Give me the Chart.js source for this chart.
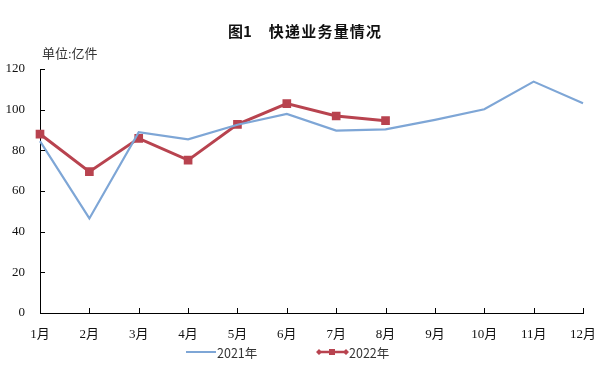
<!DOCTYPE html>
<html>
<head>
<meta charset="utf-8">
<script src="https://cdn.jsdelivr.net/npm/chart.js@4"></script>
<style>
  body { margin:0; background:#fff; }
  #wrap { position:relative; width:606px; height:370px; }
  canvas { position:absolute; left:0; top:0; }
  .title { position:absolute; left:228px; top:20px; font:bold 15px 'Noto Sans CJK SC',sans-serif; color:#111; white-space:nowrap; }
  .title span { letter-spacing:1.2px; margin-left:17px; }
  .unit { position:absolute; left:42px; top:43px; font:13px 'Liberation Serif','Noto Sans CJK SC',serif; color:#333; }
  .leg { position:absolute; top:343px; font:12.5px 'Noto Sans CJK SC',sans-serif; color:#333; display:flex; align-items:center; height:18px; }
</style>
</head>
<body>
<div id="wrap">
  <canvas id="c" width="606" height="370"></canvas>
  <div class="title">图1<span>快递业务量情况</span></div>
  <div class="unit">单位:亿件</div>
  <div class="leg" style="left:186px"><svg width="31" height="6"><line x1="0" y1="3" x2="30" y2="3" stroke="#7ea6d6" stroke-width="2"/></svg>2021年</div>
  <div class="leg" style="left:316px"><svg width="33" height="10"><line x1="2" y1="5" x2="31" y2="5" stroke="#b8434f" stroke-width="2.5"/><rect x="13" y="2" width="6" height="6" fill="#b8434f"/><path d="M0 5 L3 2 L6 5 L3 8Z M27 5 L30 2 L33 5 L30 8Z" fill="#b8434f"/></svg>2022年</div>
</div>
<script>
const months = ['1月','2月','3月','4月','5月','6月','7月','8月','9月','10月','11月','12月'];
const y2021 = [84.5, 46.5, 88.9, 85.4, 92.6, 97.9, 89.7, 90.3, 95.0, 100.2, 113.8, 103.1];
const y2022 = [88.0, 69.5, 85.9, 75.2, 92.8, 103.0, 96.9, 94.6];
const yTicks = [0, 20, 40, 60, 80, 100, 120];

const tickFont = { family:"'Liberation Serif','Noto Sans CJK SC',serif", size:13 };

// inside tick marks like the Excel original
const innerTicks = {
  id:'innerTicks',
  afterDraw(chart) {
    const { ctx, scales:{x, y} } = chart;
    ctx.save();
    ctx.strokeStyle = '#000'; ctx.lineWidth = 1;
    ctx.beginPath();
    months.forEach((m, i) => {
      const px = Math.round(x.getPixelForValue(i)) + 0.5;
      ctx.moveTo(px, y.bottom); ctx.lineTo(px, y.bottom - 5);
    });
    yTicks.forEach(v => {
      const py = Math.round(y.getPixelForValue(v)) + 0.5;
      ctx.moveTo(x.left, py); ctx.lineTo(x.left + 5, py);
    });
    ctx.stroke();
    ctx.restore();
  }
};

new Chart(document.getElementById('c'), {
  type:'line',
  data:{
    labels:months,
    datasets:[
      { label:'2021年', data:y2021, borderColor:'#7ea6d6', borderWidth:2.2, pointRadius:0, tension:0, fill:false },
      { label:'2022年', data:y2022, borderColor:'#b8434f', backgroundColor:'#b8434f', borderWidth:3, pointStyle:'rect', pointRadius:4, tension:0, fill:false },
    ]
  },
  options:{
    responsive:false, animation:false,
    layout:{ padding:{ left:0, right:23, top:69, bottom:0 } },
    plugins:{ legend:{display:false}, tooltip:{enabled:false} },
    scales:{
      x:{
        offset:false,
        grid:{ display:false },
        border:{ display:true, color:'#000', width:1 },
        ticks:{ color:'#111', font:tickFont, padding:6, maxRotation:0, autoSkip:false },
        afterFit(s){ s.height = 57; }
      },
      y:{
        min:0, max:120,
        grid:{ display:false },
        border:{ display:true, color:'#000', width:1 },
        ticks:{ color:'#111', font:tickFont, padding:7, stepSize:20 },
        afterFit(s){ s.width = 40; }
      }
    }
  },
  plugins:[innerTicks]
});
</script>
</body>
</html>
